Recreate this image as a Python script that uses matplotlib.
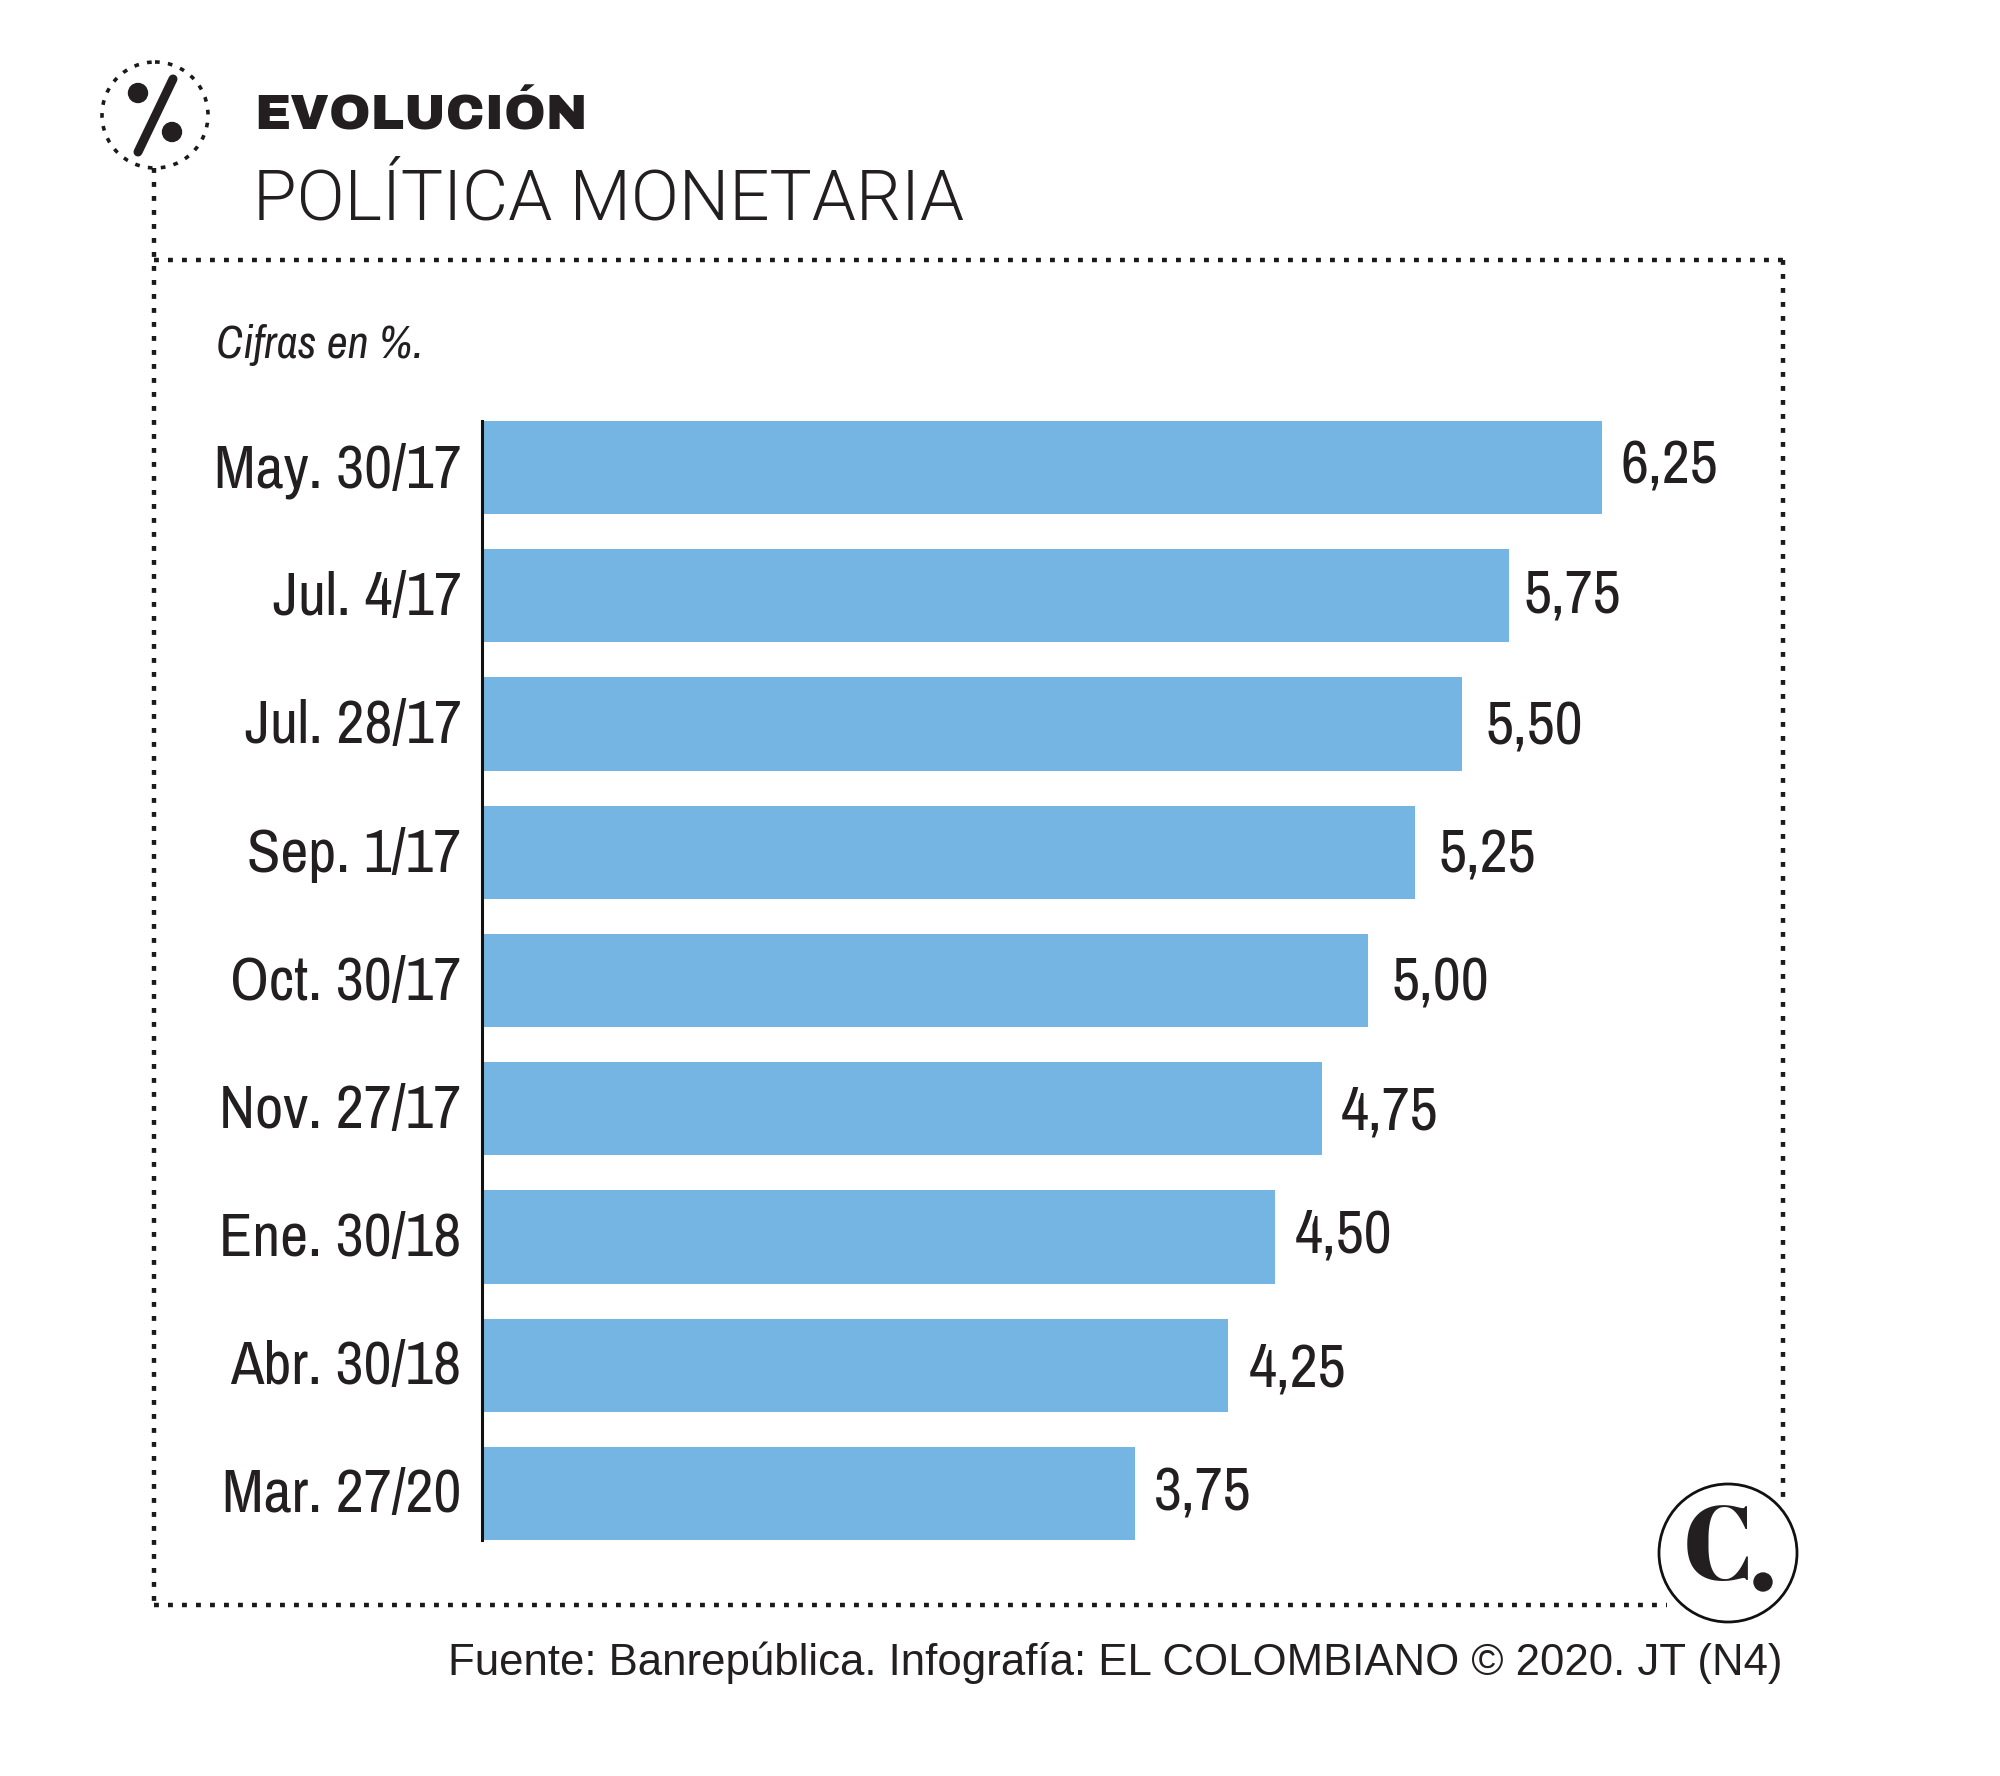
import logging
import matplotlib
matplotlib.use("Agg")
from matplotlib import pyplot as plt
from matplotlib.patches import Circle
from matplotlib.transforms import ScaledTranslation

logging.getLogger("matplotlib.font_manager").setLevel(logging.ERROR)

fechas = ["May. 30/17", "Jul. 4/17", "Jul. 28/17", "Sep. 1/17", "Oct. 30/17",
          "Nov. 27/17", "Ene. 30/18", "Abr. 30/18", "Mar. 27/20"]
tasas = [6.25, 5.75, 5.50, 5.25, 5.00, 4.75, 4.50, 4.25, 3.75]
etiquetas = ["6,25", "5,75", "5,50", "5,25", "5,00", "4,75", "4,50", "4,25", "3,75"]

# small hand placed shifts of the value labels, in pixels
nudge_x = [18, 15, 24, 23, 23, 19, 20, 20, 19]
nudge_y = [6, 5, 2, 2, 2, 1, 6, 1, 5]

W, H = 2000, 1776
INK = "#231f20"
AZUL = "#74b5e4"
narrow = dict(family=["Archivo Narrow", "Open Sans"], stretch="condensed")

fig = plt.figure(figsize=(W / 100, H / 100), dpi=100, facecolor="white")

# overlay in pixel coordinates for frame and icons
bg = fig.add_axes([0, 0, 1, 1])
bg.set_xlim(0, W)
bg.set_ylim(H, 0)
bg.axis("off")

# main chart
left, right, top, bottom = 484, 1602, 421, 1540
ax = fig.add_axes([left / W, 1 - bottom / H, (right - left) / W, (bottom - top) / H])
for s in ["top", "right", "bottom"]:
    ax.spines[s].set_visible(False)
ax.spines["left"].set_linewidth(2.2)
ax.spines["left"].set_color("#111111")
# set_position resets the ticks, so it has to come before the tick labels
ax.spines["left"].set_position(("outward", 1.2))
ax.patch.set_alpha(0)

ypos = list(range(len(tasas)))
ax.barh(ypos, tasas, height=0.727, color=AZUL)
ax.set_xlim(0.266, 6.25)
ax.set_ylim(8.364, -0.364)
ax.set_xticks([])
ax.set_yticks(ypos, fechas)
ax.tick_params(axis="y", length=0, pad=15)
shift_up = ScaledTranslation(0, 3 / 100, fig.dpi_scale_trans)
for lab in ax.get_yticklabels():
    lab.set(fontsize=44, color=INK, va="center_baseline", **narrow)
    lab.set_transform(lab.get_transform() + shift_up)

for i, (v, txt) in enumerate(zip(tasas, etiquetas)):
    ax.annotate(txt, (v, i), xytext=(nudge_x[i] * 0.72, nudge_y[i] * 0.72),
                textcoords="offset points", ha="left", va="center_baseline",
                fontsize=44, color=INK, annotation_clip=False, **narrow)

# dotted frame
dots = dict(color="#1a1a1a", lw=3.2, ls=(0, (1.1, 2.05)), dash_capstyle="butt")
bg.plot([154, 154], [168, 1605], **dots)
bg.plot([154, 1783], [260, 260], **dots)
bg.plot([154, 1667], [1605, 1605], **dots)
bg.plot([1783, 1783], [260, 1497], **dots)

# percent icon
bg.add_patch(Circle((155, 115), 53, fill=False, ec="#1a1a1a", lw=2.6, ls=(0, (1.3, 2.3))))
bg.plot([173, 138], [79, 152], color=INK, lw=6.5, solid_capstyle="round")
bg.add_patch(Circle((138, 93), 9.5, color=INK))
bg.add_patch(Circle((172, 132), 9.5, color=INK))

# logo
bg.add_patch(Circle((1728, 1553), 69, fc="white", ec="#111111", lw=2, zorder=5))
bg.text(1719, 1553, "C", family=["Abril Fatface", "Liberation Serif"], fontweight="bold",
        fontsize=75, color=INK, ha="center", va="center", zorder=6)
bg.add_patch(Circle((1763, 1582), 9, color=INK, zorder=6))

# titles
bg.text(254, 130, "EVOLUCIÓN", family=["Archivo Black", "Inter"], fontweight=900, fontsize=36,
        color=INK, ha="left", va="baseline")
bg.text(253, 220, "POLÍTICA MONETARIA", family="Roboto", fontweight=300, fontsize=51,
        color=INK, ha="left", va="baseline")
bg.text(216, 358, "Cifras en %.", style="italic", fontsize=33,
        color=INK, ha="left", va="baseline", **narrow)
bg.text(1782, 1675, "Fuente: Banrepública. Infografía: EL COLOMBIANO © 2020. JT (N4)",
        family="Liberation Sans", fontsize=31.5, color=INK, ha="right", va="baseline")

fig.savefig("out.png", dpi=100, facecolor="white")
plt.close(fig)
